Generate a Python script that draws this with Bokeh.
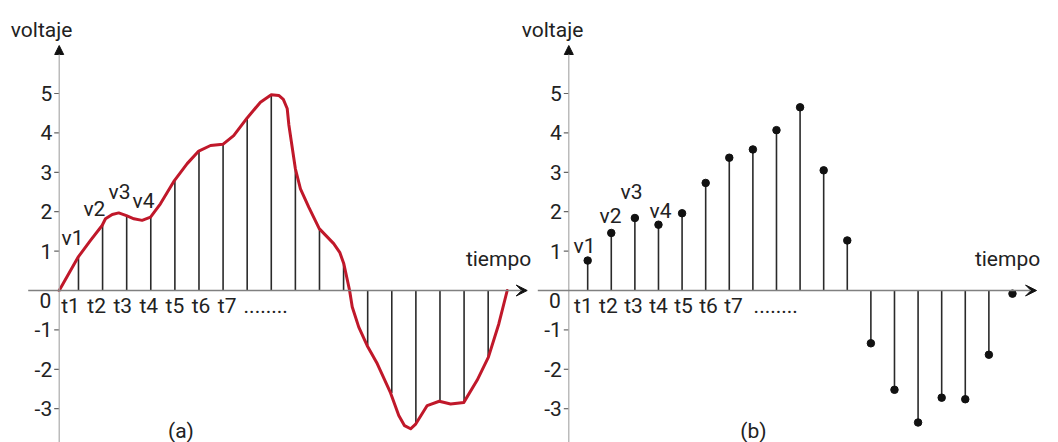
from bokeh.plotting import figure
from bokeh.models import Range1d, Arrow, VeeHead, NormalHead
from bokeh.core.properties import value
from bokeh.embed import file_html
from bokeh.resources import INLINE

# ---------------- data ----------------
# continuous signal (a): time in sample units, voltage
curve_t = [0.00, 0.80, 1.30, 1.78, 1.92, 2.20, 2.47, 2.79, 3.10, 3.44, 3.79, 4.20,
           4.78, 5.31, 5.79, 6.28, 6.79, 7.24, 7.80, 8.35, 8.80, 9.11, 9.30, 9.46,
           9.53, 9.80, 10.01, 10.36, 10.79, 11.39, 11.64, 11.81, 12.05, 12.16, 12.43,
           12.78, 13.20, 13.75, 14.09, 14.33, 14.58, 14.78, 15.27, 15.77, 16.24,
           16.79, 17.34, 17.81, 18.24, 18.59]
curve_v = [0.00, 0.86, 1.27, 1.65, 1.82, 1.93, 1.97, 1.90, 1.82, 1.78, 1.86, 2.20,
           2.79, 3.22, 3.54, 3.68, 3.71, 3.93, 4.38, 4.78, 4.97, 4.95, 4.85, 4.62,
           4.20, 3.09, 2.58, 2.11, 1.57, 1.19, 0.97, 0.68, 0.00, -0.42, -0.93,
           -1.40, -1.86, -2.60, -3.17, -3.43, -3.51, -3.40, -2.92, -2.81, -2.88,
           -2.84, -2.28, -1.69, -0.85, 0.00]

# sampled values shown as vertical lines in (a)
a_samples = [0.86, 1.67, 1.90, 1.86, 2.79, 3.55, 3.70, 4.38, 4.97, 3.09, 1.57, 0.72,
             -1.40, -2.60, -3.40, -2.81, -2.86, -1.69]
# discrete signal (b)
b_samples = [0.76, 1.46, 1.84, 1.67, 1.96, 2.73, 3.37, 3.58, 4.07, 4.65, 3.05, 1.27,
             -1.34, -2.52, -3.35, -2.72, -2.76, -1.63, -0.08]

y_ticks = [5, 4, 3, 2, 1, -1, -2, -3]
y_tick_labels = ["5", "4", "3", "2", "1", "-1", "-2", "-3"]
zero_label = "0"
t_labels = ["t1", "t2", "t3", "t4", "t5", "t6", "t7"]
dots_label = "........"
v_labels = ["v1", "v2", "v3", "v4"]
x_title = "tiempo"
y_title = "voltaje"
panel_titles = ["(a)", "(b)"]

# ---------------- layout ----------------
FONT = value("Roboto")
FS = "21px"
TXT = "#222222"
W, H = 1058, 442
PX_V = 39.4                      # px per volt
ZERO_Y = 290                     # px from top of the zero line
Y_TOP = ZERO_Y / PX_V
Y_BOT = Y_TOP - H / PX_V

PPU_A, ORIG_A = 24.1, 58.7       # panel (a): px per sample, y-axis px
PPU_B, ORIG_B = 23.6, 568.3      # panel (b)

p = figure(width=W, height=H, output_backend="svg", toolbar_location=None,
           x_range=Range1d(-ORIG_A / PPU_A, (W - ORIG_A) / PPU_A),
           y_range=Range1d(Y_BOT, Y_TOP), min_border=0,
           x_axis_type=None, y_axis_type=None, outline_line_color=None,
           background_fill_color="white", border_fill_color="white")
p.extra_x_ranges = {"b": Range1d(-ORIG_B / PPU_B, (W - ORIG_B) / PPU_B)}
p.grid.visible = False


def sample_times(n):
    return [k + 1 - 0.2 for k in range(n)]


def draw_frame(rng, ppu, cfg):
    dx = lambda px: px / ppu
    dy = lambda px: px / PX_V
    kw = dict(x_range_name=rng)
    tkw = dict(text_font=FONT, text_font_size=FS, text_color=TXT)
    # y axis with arrow
    p.add_layout(Arrow(end=NormalHead(size=9, fill_color="#111", line_color="#111"),
                       x_start=0, y_start=Y_BOT, x_end=0, y_end=dy(245),
                       line_color="#aaaaaa", line_width=1.2, **kw))
    # x axis with arrow
    p.add_layout(Arrow(end=VeeHead(size=11, fill_color="#111", line_color="#111"),
                       x_start=-dx(31), y_start=0, x_end=cfg["x_tip"], y_end=0,
                       line_color="#808080", line_width=1.5, **kw))
    # y ticks
    p.segment(x0=[-dx(5)] * len(y_ticks), y0=y_ticks, x1=[0] * len(y_ticks), y1=y_ticks,
              line_color="#666", line_width=1.2, **kw)
    p.text(x=[-dx(7)] * len(y_ticks), y=y_ticks, text=y_tick_labels,
           text_align="right", text_baseline="middle", **tkw, **kw)
    p.text(x=[-dx(8)], y=[-dy(10)], text=[zero_label],
           text_align="right", text_baseline="middle", **tkw, **kw)
    # t labels
    tl_x = [cfg["tl_start"] + i * cfg["tl_step"] for i in range(len(t_labels))]
    p.text(x=tl_x, y=[-dy(15)] * len(t_labels), text=t_labels,
           text_align="center", text_baseline="middle", **tkw, **kw)
    p.text(x=[cfg["dots_x"]], y=[-dy(15)], text=[dots_label],
           text_align="left", text_baseline="middle", **tkw, **kw)
    # v labels
    p.text(x=cfg["v_x"], y=cfg["v_y"], text=v_labels,
           text_align="center", text_baseline="middle", **tkw, **kw)
    # titles
    p.text(x=[cfg["ytitle_x"]], y=[dy(261)], text=[y_title],
           text_align="center", text_baseline="alphabetic", **tkw, **kw)
    p.text(x=[cfg["xtitle_x"]], y=[dy(32)], text=[x_title],
           text_align="center", text_baseline="alphabetic", **tkw, **kw)
    p.text(x=[cfg["ptitle_x"]], y=[-dy(140)], text=[cfg["ptitle"]],
           text_align="center", text_baseline="middle", **tkw, **kw)


# ----- panel (a)
draw_frame("default", PPU_A, dict(
    x_tip=19.42, tl_start=0.47, tl_step=1.083, dots_x=7.65,
    v_x=[0.55, 1.46, 2.50, 3.50], v_y=[1.32, 2.08, 2.51, 2.26],
    ytitle_x=-0.73, xtitle_x=18.23, ptitle_x=5.05, ptitle=panel_titles[0]))
ta = sample_times(len(a_samples))
p.segment(x0=ta, y0=[0] * len(ta), x1=ta, y1=a_samples, line_color="#2a2a2a", line_width=1.6)
p.line(curve_t, curve_v, line_color="#c0182a", line_width=3, line_join="round", line_cap="round")

# ----- panel (b)
draw_frame("b", PPU_B, dict(
    x_tip=19.82, tl_start=0.62, tl_step=1.06, dots_x=7.83,
    v_x=[0.67, 1.77, 2.66, 3.89], v_y=[1.14, 1.90, 2.51, 2.03],
    ytitle_x=-0.69, xtitle_x=18.59, ptitle_x=7.82, ptitle=panel_titles[1]))
tb = sample_times(len(b_samples))
p.segment(x0=tb, y0=[0] * len(tb), x1=tb, y1=b_samples, line_color="#2a2a2a",
          line_width=1.6, x_range_name="b")
p.scatter(tb, b_samples, size=7.5, fill_color="#111", line_color="#111", x_range_name="b")

open("out.html", "w").write(file_html(p, INLINE))
